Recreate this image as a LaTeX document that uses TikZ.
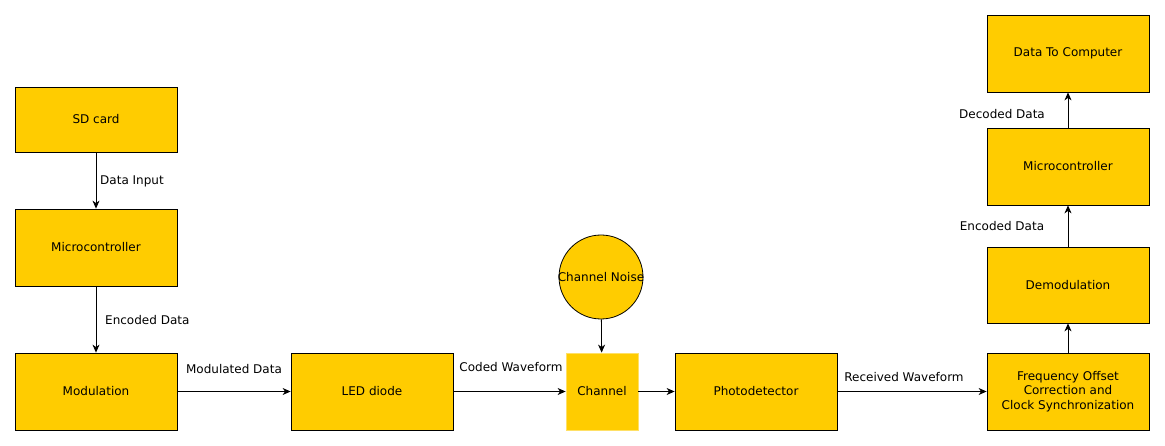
\documentclass[tikz,border=0pt]{standalone}
\usepackage{fontspec}
\setmainfont{DejaVu Sans}
\usetikzlibrary{arrows.meta}
\definecolor{boxfill}{HTML}{FFCC00}
\definecolor{chanline}{HTML}{FFE066}
\tikzset{
    block/.style={draw=black, fill=boxfill, line width=0.8pt, minimum width=162pt, minimum height=77pt, align=center, inner sep=0pt},
    conn/.style={draw, line width=0.8pt, -{Stealth[length=8pt, width=7pt, inset=2.5pt]}},
    lbl/.style={inner sep=0pt}
}
\begin{document}
\begin{tikzpicture}[x=1pt, y=-1pt, font=\fontsize{12}{14.5}\selectfont]
        \useasboundingbox (0,0) rectangle (1165,446);
        % transmitter
        \node[block, minimum height=65pt](sd) at(96, 119.5){SD card};
        \node[block](mctx) at(96, 247.5){Microcontroller};
        \node[block](mod) at(96, 391.5){Modulation};
        \node[block](led) at(372, 391.5){LED diode};
        % channel
        \node[block, draw=chanline, minimum width=72pt](chan) at(602, 391.5){Channel};
        \node[draw=black, fill=boxfill, line width=0.8pt, circle, minimum size=84pt, inner sep=0pt](noise) at(601, 277){\makebox[0pt]{Channel Noise}};
        % receiver
        \node[block](photo) at(756, 391.5){Photodetector};
        \node[block](sync) at(1068, 391.5){Frequency Offset\\Correction and\\Clock Synchronization};
        \node[block, minimum height=76pt](demod) at(1068, 285){Demodulation};
        \node[block](mcrx) at(1068, 166.5){Microcontroller};
        \node[block](pc) at(1068, 53.5){Data To Computer};
        % connectors
        \draw[conn](sd) -- (mctx);
        \draw[conn](mctx) -- (mod);
        \draw[conn](mod) -- (led);
        \draw[conn](led) -- (chan);
        \draw[conn](noise) -- (chan);
        \draw[conn](chan) -- (photo);
        \draw[conn](photo) -- (sync);
        \draw[conn](sync) -- (demod);
        \draw[conn](demod) -- (mcrx);
        \draw[conn](mcrx) -- (pc);
        % labels
        \node[lbl, anchor=west](datain) at(100, 181){Data Input};
        \node[lbl, anchor=west](enctx) at(105, 320){Encoded Data};
        \node[lbl](moddata) at(234, 369){Modulated Data};
        \node[lbl](codedwf) at(511, 367){Coded Waveform};
        \node[lbl](recvwf) at(904, 377){Received Waveform};
        \node[lbl](encrx) at(1002, 226){Encoded Data};
        \node[lbl](decrx) at(1002, 114){Decoded Data};
\end{tikzpicture}
\end{document}
